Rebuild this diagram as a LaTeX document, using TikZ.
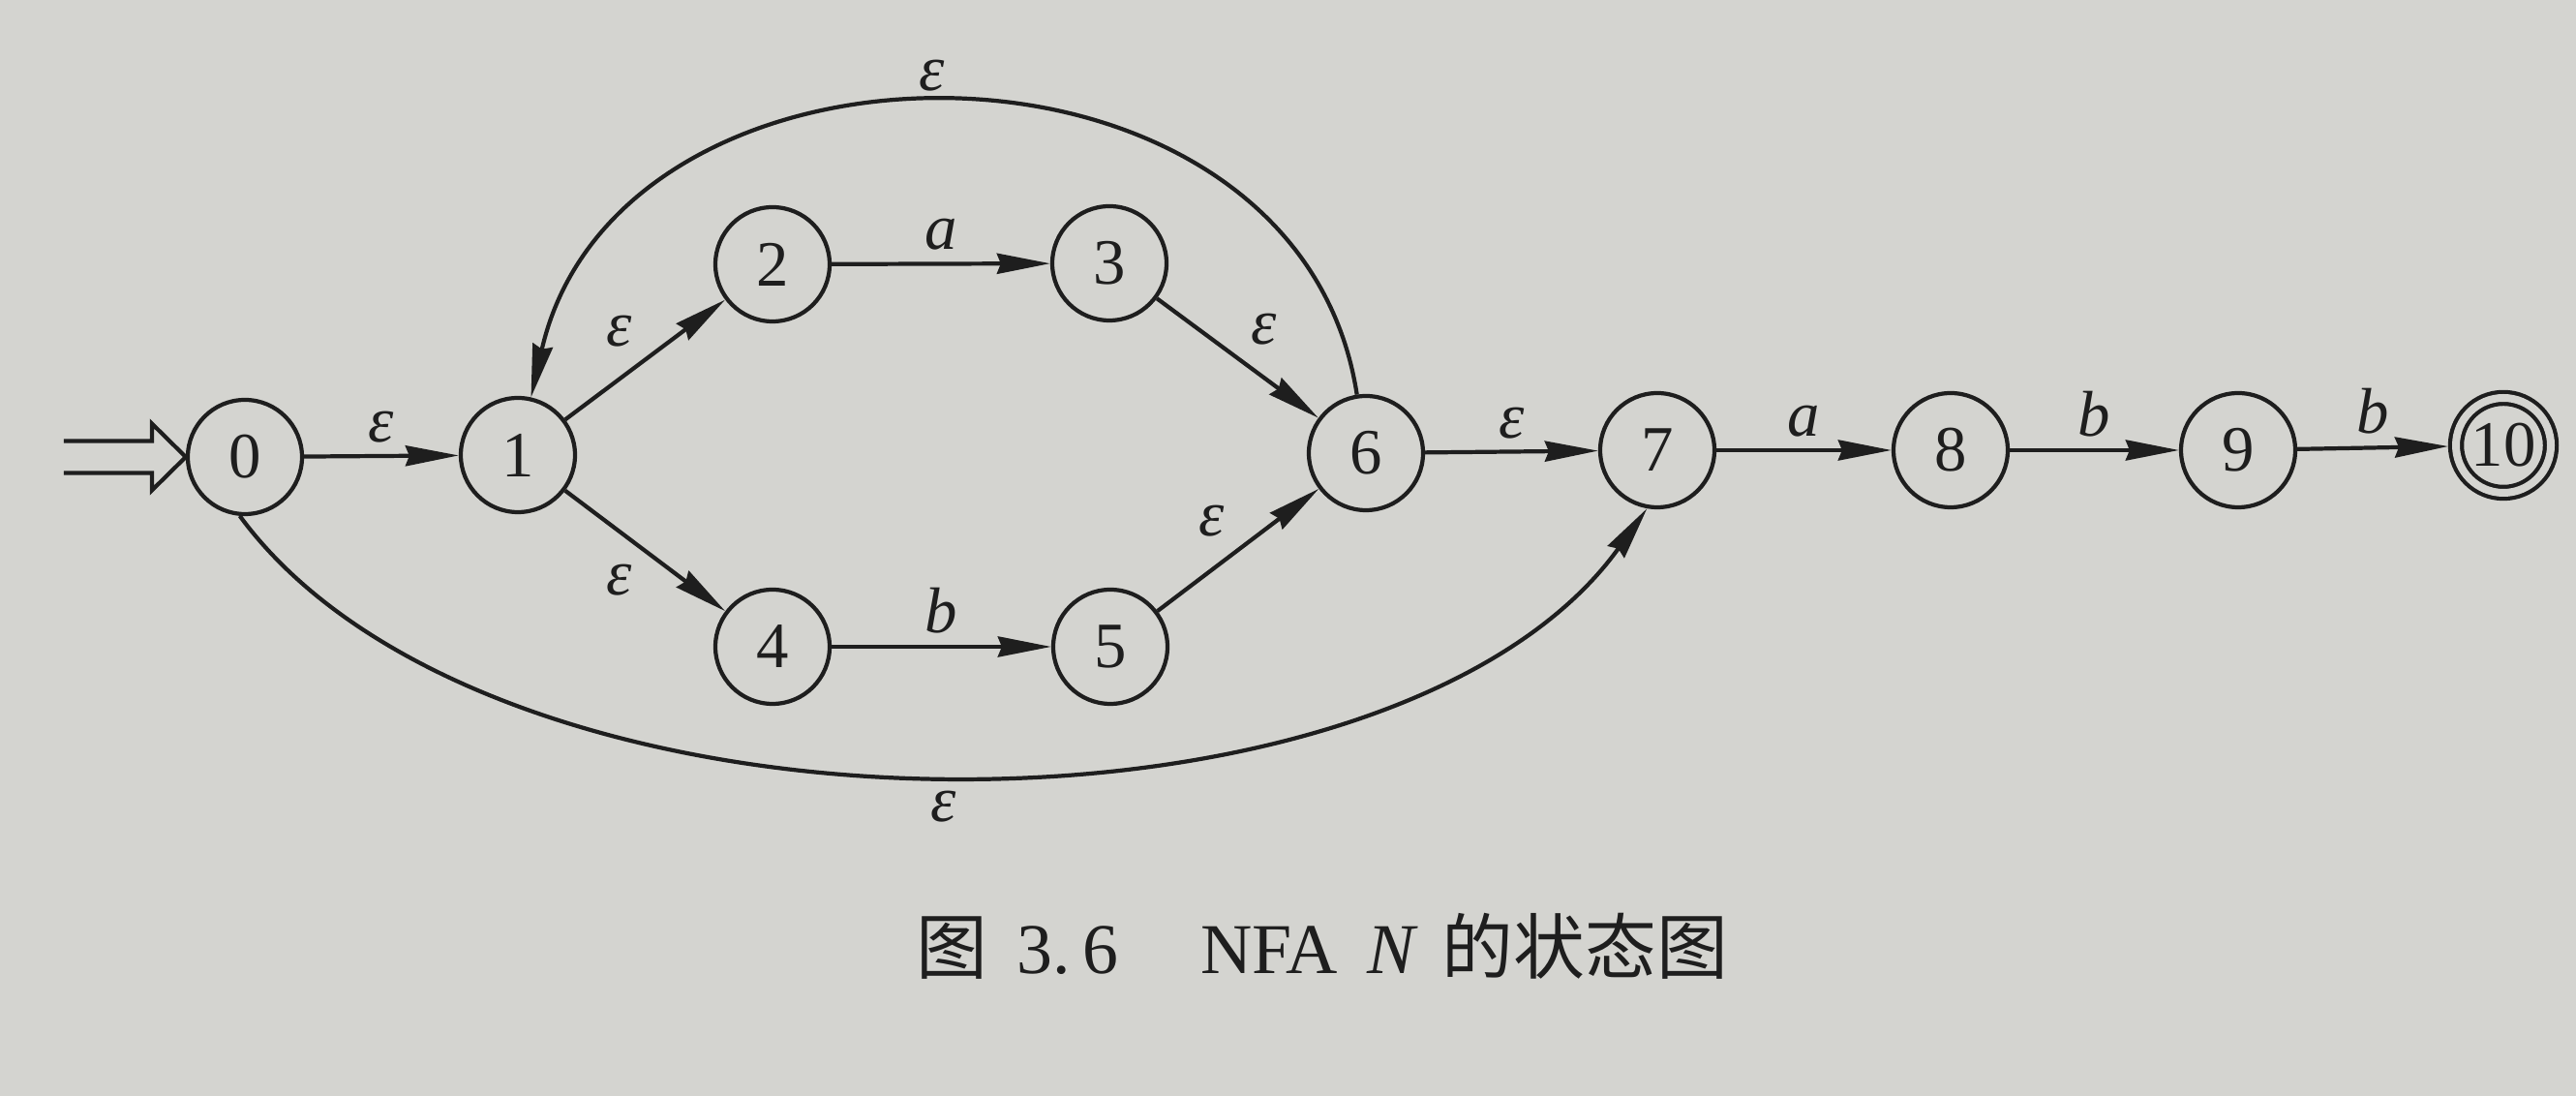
\documentclass[tikz,border=0pt]{standalone}
\usepackage{fontspec}
\setmainfont{Liberation Serif}
\newfontfamily\cjk{Noto Sans CJK SC}
\usepackage{tikz}
\usetikzlibrary{arrows.meta,positioning}
\definecolor{paper}{RGB}{212,212,208}
\definecolor{ink}{RGB}{30,30,30}
\tikzset{state/.style={draw,circle,minimum size=1.18cm,inner sep=0pt},
finalstate/.style={state,minimum size=0.98cm,double=paper,double distance=0.08cm,outer sep=0.08cm}}

\begin{document}
\begin{tikzpicture}[>={Stealth[length=5.5mm,width=2.1mm,inset=0.4mm]}, auto, line width=1.2pt, color=ink, font=\fontsize{19}{22}\selectfont]
\fill[paper] (0,0) rectangle (26.61,11.32);
\useasboundingbox (0,0) rectangle (26.61,11.32);
\node[state] (S0) at (2.53,6.60) {0};
\node[state] (S1) at (5.35,6.62) {1};
\node[state] (S2) at (7.98,8.59) {2};
\node[state] (S3) at (11.46,8.60) {3};
\node[state] (S4) at (7.98,4.64) {4};
\node[state] (S5) at (11.47,4.64) {5};
\node[state] (S6) at (14.11,6.64) {6};
\node[state] (S7) at (17.12,6.67) {7};
\node[state] (S8) at (20.15,6.67) {8};
\node[state] (S9) at (23.12,6.67) {9};
\node[finalstate] (S10) at (25.86,6.72) {10};
% start arrow
\draw (S0.west) -- ++(-0.35,0.345) -- ++(0,-0.18) -- ++(-0.91,0);
\draw (S0.west) -- ++(-0.35,-0.345) -- ++(0,0.18) -- ++(-0.91,0);
\path[->] (S0) edge node {\itshape ε} (S1)
	(S1) edge node {\itshape ε} (S2)
	(S1) edge node[swap] {\itshape ε} (S4)
	(S2) edge node {\itshape a} (S3)
	(S4) edge node {\itshape b} (S5)
	(S3) edge node {\itshape ε} (S6)
	(S5) edge node {\itshape ε} (S6)
	(S6) edge node {\itshape ε} (S7)
	(S7) edge node {\itshape a} (S8)
	(S8) edge node {\itshape b} (S9)
	(S9) edge node {\itshape b} (S10);
\draw[->] (S6) .. controls (13.4,11.25) and (6.4,11.25) .. node[pos=0.52,above] {\itshape ε} (S1);
\draw[->] (S0.-95) .. controls (5.1,2.42) and (14.4,2.42) .. node[pos=0.5,below=1pt] {\itshape ε} (S7.-100);
\node (cap) at (13.66,1.55) {\fontsize{21}{25}\selectfont{\cjk 图}\hspace{0.3cm}3.\hspace{0.12cm}6\hspace{0.85cm}NFA\hspace{0.3cm}\textit{N}\hspace{0.25cm}{\cjk 的状态图}};
\end{tikzpicture}
\end{document}
